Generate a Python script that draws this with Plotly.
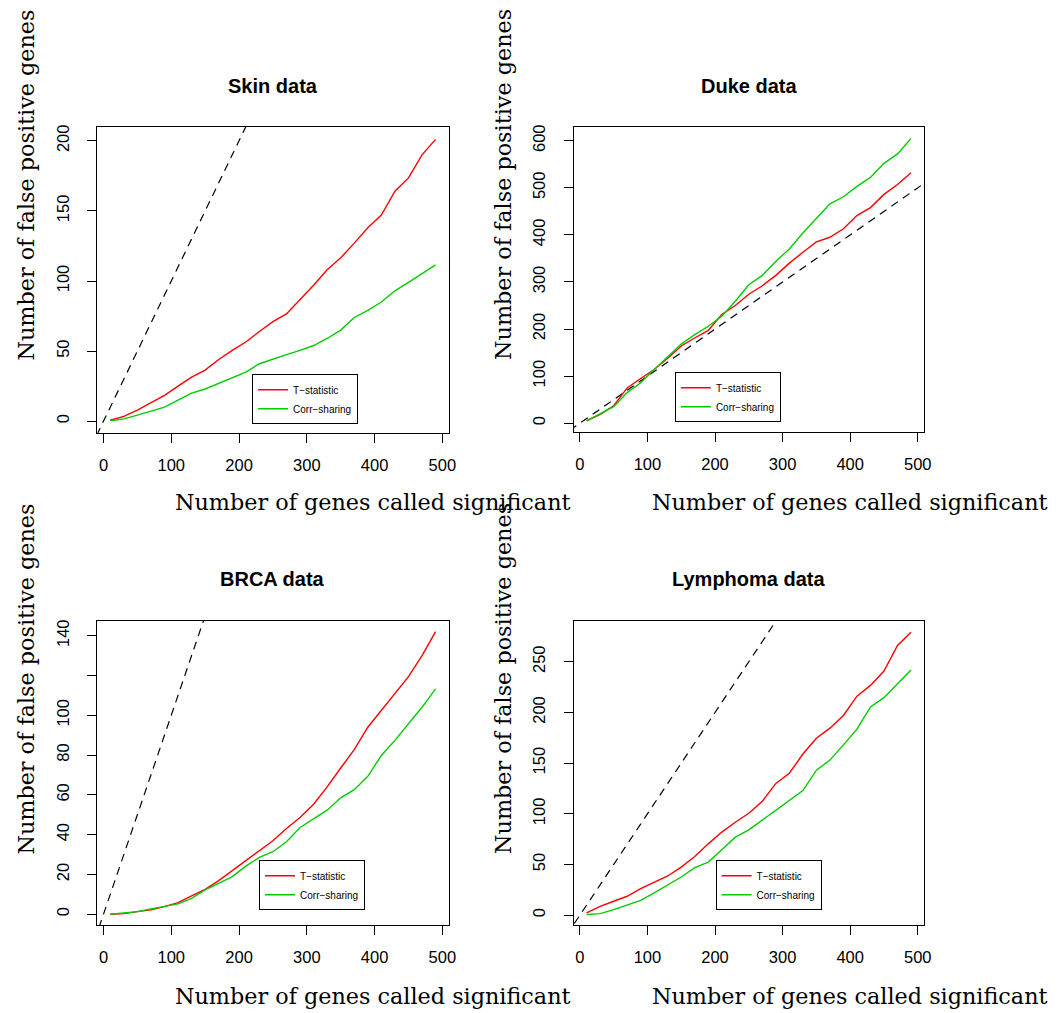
import plotly.graph_objects as go

W, H = 1062, 1013

# ---------------- data ----------------
n_called = [10, 30, 50, 70, 90, 110, 130, 150, 170, 190, 210, 230, 250,
            270, 290, 310, 330, 350, 370, 390, 410, 430, 450, 470, 490]

skin_t = [0.7, 3.5, 8, 13, 18.5, 25, 31.5, 36.5, 44, 50.5, 56.5, 64, 71,
          76.5, 86.5, 97, 108, 116.5, 127, 138, 147, 164, 173.5, 190, 201]
skin_c = [0.3, 1.7, 4.3, 7, 10, 15, 20, 23, 27, 31, 35, 41, 44.5,
          47.5, 50.5, 54, 59, 65, 74, 79, 85, 93, 99, 105.5, 111.5]

duke_t = [5, 19, 37, 75, 95, 114, 138, 164, 181, 197, 231, 250, 274,
          292, 314, 340, 363, 385, 395, 413, 441, 458, 486, 507, 532]
duke_c = [5, 20, 35, 65, 86, 114, 140, 168, 188, 206, 227, 259, 294,
          314, 344, 370, 404, 435, 466, 481, 503, 522, 552, 572, 605]

brca_t = [0, 0.3, 1.3, 2.2, 3.8, 5.8, 9.2, 12.5, 16.9, 21.9, 27.2, 31.9, 36.9,
          43.1, 48.6, 55.3, 64, 73.5, 82.7, 94, 102.4, 110.8, 119.4, 130, 142]
brca_c = [0, 0.5, 1.3, 2.7, 3.8, 5.2, 8, 12.2, 15.5, 18.9, 24.2, 28.6, 31.4,
          36.4, 43.6, 47.8, 52.3, 58.5, 62.6, 69.3, 79.8, 87.4, 95.7, 104, 113.3]

lymph_t = [2.3, 8.8, 13.8, 18.7, 26.2, 32.8, 38.7, 47.5, 58, 70.4, 82, 91.7, 100.6,
           112.4, 130, 140, 159, 174.6, 184.5, 197, 216, 226.7, 240.8, 266, 279]
lymph_c = [0.7, 1.6, 5.6, 10.5, 14.7, 22, 30, 37.7, 46.9, 52.4, 64.5, 77, 84.2,
           94, 103.2, 113, 123, 143, 153, 168, 183.5, 205.4, 214.6, 228.4, 241.8]

# reference line y = x (abline(0, 1)), clipped to the plot area
ref_line = [-100, 1000]

titles = ["Skin data", "Duke data", "BRCA data", "Lymphoma data"]
series_t = [skin_t, duke_t, brca_t, lymph_t]
series_c = [skin_c, duke_c, brca_c, lymph_c]
legend_names = ["T\u2212statistic", "Corr\u2212sharing"]

x_ticks = [0, 100, 200, 300, 400, 500]
y_ticks = [
    [0, 50, 100, 150, 200],
    [0, 100, 200, 300, 400, 500, 600],
    [0, 20, 40, 60, 80, 100, 120, 140],
    [0, 50, 100, 150, 200, 250],
]
y_ticktext = [
    ["0", "50", "100", "150", "200"],
    ["0", "100", "200", "300", "400", "500", "600"],
    ["0", "20", "40", "60", "80", "100", "", "140"],
    ["0", "50", "100", "150", "200", "250"],
]

# ---------------- layout geometry (pixels) ----------------
boxes = [(98, 452, 125, 432), (578, 931, 125, 431),
         (98, 452, 620, 925), (578, 931, 620, 925)]
x_range = [-9.2, 509.2]
y_ranges = [[-8.5, 210.0], [-19.0, 629.7], [-5.5, 147.5], [-9.8, 290.4]]
legend_pos = [(254, 373), (680, 371), (261, 860), (721, 860)]

RED = "#FF0000"
GREEN = "#00CD00"
SANS = "Liberation Sans, Arial, Helvetica, sans-serif"
SERIF = "DejaVu Serif, serif"

fig = go.Figure()
layout = dict(
    width=W, height=H,
    margin=dict(l=0, r=0, t=0, b=0),
    paper_bgcolor="white", plot_bgcolor="white",
    showlegend=True,
    annotations=[],
)

for i in range(4):
    k = "" if i == 0 else str(i + 1)
    xa, ya = "x" + k, "y" + k
    lg = "legend" + k
    x0, x1, y0, y1 = boxes[i]

    fig.add_trace(go.Scatter(x=ref_line, y=ref_line, mode="lines",
                             line=dict(color="black", width=1.2, dash="8px,6px"),
                             xaxis=xa, yaxis=ya, showlegend=False, hoverinfo="skip"))
    fig.add_trace(go.Scatter(x=n_called, y=series_t[i], mode="lines",
                             name=legend_names[0], line=dict(color=RED, width=1.4),
                             xaxis=xa, yaxis=ya, legend=lg))
    fig.add_trace(go.Scatter(x=n_called, y=series_c[i], mode="lines",
                             name=legend_names[1], line=dict(color=GREEN, width=1.4),
                             xaxis=xa, yaxis=ya, legend=lg))

    axis_common = dict(showgrid=False, zeroline=False, showline=True,
                       linecolor="black", linewidth=1, mirror=True,
                       ticks="outside", ticklen=9, tickcolor="black", tickwidth=1,
                       tickfont=dict(family=SANS, size=16.5, color="black"))
    layout["xaxis" + k] = dict(axis_common, domain=[x0 / W, x1 / W],
                               anchor=ya, range=x_range,
                               tickvals=x_ticks, ticklabelstandoff=8)
    layout["yaxis" + k] = dict(axis_common, domain=[1 - y1 / H, 1 - y0 / H],
                               anchor=xa, range=y_ranges[i],
                               tickvals=y_ticks[i], ticktext=y_ticktext[i],
                               tickangle=-90, ticklabelstandoff=12)

    lx, ly = legend_pos[i]
    layout[lg] = dict(x=lx / W, y=1 - ly / H, xanchor="left", yanchor="top",
                      xref="paper", yref="paper",
                      bordercolor="black", borderwidth=1, bgcolor="white",
                      font=dict(family=SANS, size=10, color="black"),
                      itemwidth=30, tracegroupgap=0)

    cx = (x0 + x1) / 2
    ty = 84 if i < 2 else 578
    layout["annotations"].append(dict(
        text="<b>" + titles[i] + "</b>", x=cx / W, y=1 - ty / H,
        xref="paper", yref="paper", xanchor="center", yanchor="middle",
        showarrow=False, font=dict(family=SANS, size=20, color="black")))

    # x-axis label
    xl_cx = 375.5 if i % 2 == 0 else 855.5
    xl_y = 501 if i < 2 else 996
    layout["annotations"].append(dict(
        text="Number of genes called significant", x=xl_cx / W, y=1 - xl_y / H,
        xref="paper", yref="paper", xanchor="center", yanchor="middle",
        showarrow=False, font=dict(family=SERIF, size=22.3, color="black")))

    # y-axis label
    yl_x = 26 if i % 2 == 0 else 507
    yl_bottom = 361 if i < 2 else 856
    layout["annotations"].append(dict(
        text="Number of false positive genes", x=yl_x / W, y=1 - yl_bottom / H,
        xref="paper", yref="paper", xanchor="center", yanchor="bottom",
        textangle=-90, showarrow=False,
        font=dict(family=SERIF, size=22.3, color="black")))

fig.update_layout(**layout)
fig.write_html("out.html")
